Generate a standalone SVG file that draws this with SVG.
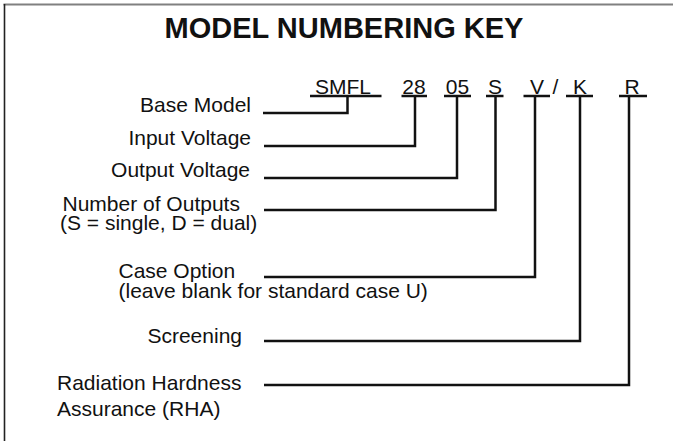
<svg xmlns="http://www.w3.org/2000/svg" width="673" height="441" viewBox="0 0 673 441">
<style>
text{font-family:"Liberation Sans",Arial,Helvetica,sans-serif;fill:#111;font-size:21px}
.title{font-weight:bold;font-size:29px}
.r{text-anchor:end}
.m{text-anchor:middle}
.ln{stroke:#111;stroke-width:2.5;fill:none;stroke-linecap:butt;stroke-linejoin:miter}
</style>
<rect width="673" height="441" fill="#fff"/>
<g id="frame">
<line x1="3.5" y1="4.5" x2="673" y2="4.5" stroke="#808080" stroke-width="2"/>
<line x1="4.5" y1="4" x2="4.5" y2="441" stroke="#222" stroke-width="1.6"/>
</g>
<g id="title"><text class="title m" x="344" y="38">MODEL NUMBERING KEY</text></g>
<g id="code">
<text class="m" x="343" y="94">SMFL</text>
<text class="m" x="414" y="94">28</text>
<text class="m" x="457.5" y="94">05</text>
<text class="m" x="495" y="94">S</text>
<text class="m" x="537" y="94">V</text>
<text class="m" x="555.5" y="94">/</text>
<text class="m" x="580" y="94">K</text>
<text class="m" x="632" y="94">R</text>
<g class="ln">
<line x1="310" y1="96" x2="381.5" y2="96"/>
<line x1="401.5" y1="96" x2="427" y2="96"/>
<line x1="444" y1="96" x2="471" y2="96"/>
<line x1="486" y1="96" x2="503.5" y2="96"/>
<line x1="523.5" y1="96" x2="550" y2="96"/>
<line x1="566" y1="96" x2="593" y2="96"/>
<line x1="619" y1="96" x2="647" y2="96"/>
</g>
</g>
<g id="base-model"><text class="r" x="251" y="112">Base Model</text></g>
<g id="input-voltage"><text class="r" x="251" y="144.5">Input Voltage</text></g>
<g id="output-voltage"><text class="r" x="250" y="177">Output Voltage</text></g>
<g id="number-of-outputs">
<text x="62.5" y="211">Number of Outputs</text>
<text x="60" y="229.5">(S = single, D = dual)</text>
</g>
<g id="case-option">
<text x="118.5" y="278">Case Option</text>
<text x="118.5" y="297.5">(leave blank for standard case U)</text>
</g>
<g id="screening"><text class="r" x="242" y="343">Screening</text></g>
<g id="rha">
<text x="57" y="390">Radiation Hardness</text>
<text x="57" y="416">Assurance (RHA)</text>
</g>
<g id="connectors" class="ln">
<polyline points="263,113 347.5,113 347.5,96"/>
<polyline points="264,146 415,146 415,96"/>
<polyline points="264,178 457,178 457,96"/>
<polyline points="264,210 495.5,210 495.5,96"/>
<polyline points="264,277 535,277 535,96"/>
<polyline points="264,341 580,341 580,96"/>
<polyline points="264,385 629,385 629,96"/>
</g>
</svg>
